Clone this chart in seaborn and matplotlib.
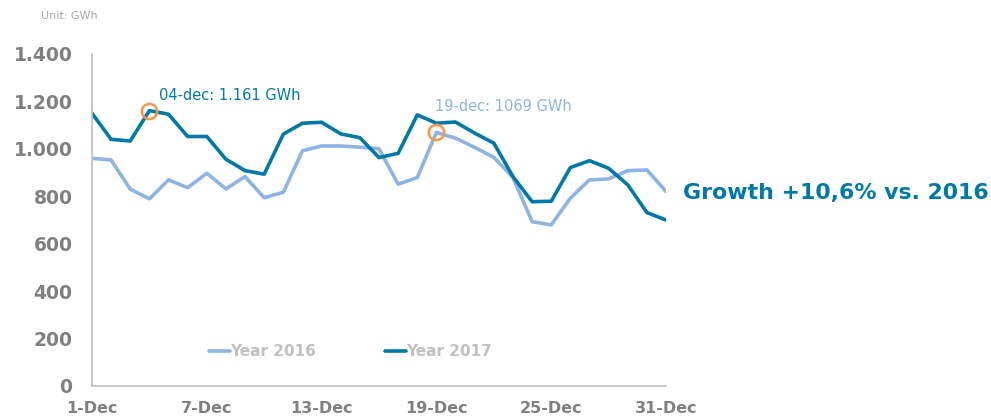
import pandas as pd
import matplotlib.pyplot as plt
import seaborn as sns

# daily consumption, December (GWh)
days = list(range(1, 32))
year_2016 = [960, 953, 830, 789, 869, 836, 897, 831, 883, 794, 817, 992, 1012, 1012, 1007, 1000,
             851, 879, 1069, 1045, 1006, 964, 879, 693, 679, 792, 869, 873, 908, 911, 820]
year_2017 = [1150, 1040, 1033, 1161, 1146, 1052, 1052, 956, 908, 893, 1062, 1108, 1112, 1063, 1047, 963,
             981, 1143, 1108, 1113, 1066, 1024, 883, 777, 779, 921, 950, 918, 848, 731, 700]
tick_days = [1, 7, 13, 19, 25, 31]
tick_labels = ["1-Dec", "7-Dec", "13-Dec", "19-Dec", "25-Dec", "31-Dec"]

df = pd.DataFrame({
    "Day": days * 2,
    "GWh": year_2016 + year_2017,
    "Series": ["Year 2016"] * len(days) + ["Year 2017"] * len(days),
})

light = "#8DB4E2"
dark = "#0079A8"
orange = "#F79646"
grey = "#808080"

sns.set_style("white")
fig = plt.figure(figsize=(9.91, 4.18), dpi=100)
ax = fig.add_axes([0.0928, 0.0766, 0.5793, 0.7943])

sns.lineplot(data=df, x="Day", y="GWh", hue="Series", palette={"Year 2016": light, "Year 2017": dark},
             linewidth=2.6, ax=ax)

# highlighted points
ax.plot([4], [year_2017[3]], marker="o", markersize=11, markerfacecolor="none",
        markeredgecolor=orange, markeredgewidth=1.8, linestyle="none")
ax.plot([19], [year_2016[18]], marker="o", markersize=11, markerfacecolor="none",
        markeredgecolor=orange, markeredgewidth=1.8, linestyle="none")
ax.text(4.5, 1224, "04-dec: 1.161 GWh", color=dark, fontsize=10.5, va="center")
ax.text(18.95, 1177, "19-dec: 1069 GWh", color=light, fontsize=10.5, va="center")

ax.set_xlim(1, 31)
ax.set_ylim(0, 1400)
ax.set_xticks(tick_days)
ax.set_xticklabels(tick_labels, fontsize=11.5, fontweight="bold", color=grey)
ax.set_yticks(range(0, 1401, 200))
ax.set_yticklabels(["0", "200", "400", "600", "800", "1.000", "1.200", "1.400"],
                   fontsize=13.5, fontweight="bold", color=grey)
ax.tick_params(axis="x", direction="in", length=5, color="#bfbfbf", pad=11)
ax.tick_params(axis="y", length=0, pad=14)
ax.set_xlabel("")
ax.set_ylabel("")
for side in ["top", "right"]:
    ax.spines[side].set_visible(False)
for side in ["left", "bottom"]:
    ax.spines[side].set_color("#bfbfbf")
    ax.spines[side].set_linewidth(1.2)

leg = ax.legend(loc="lower center", bbox_to_anchor=(0.45, 0.04), ncol=2, frameon=False,
                handlelength=1.4, handletextpad=0.0, columnspacing=4.5,
                prop={"weight": "bold", "size": 11})
for t in leg.get_texts():
    t.set_color("#c0c0c0")

fig.text(0.041, 0.962, "Unit: GWh", color="#a6a6a6", fontsize=8, va="center")
fig.text(0.689, 0.538, "Growth +10,6% vs. 2016", color=dark, fontsize=15.8, fontweight="bold", va="center")

plt.savefig("out.png", dpi=100)
